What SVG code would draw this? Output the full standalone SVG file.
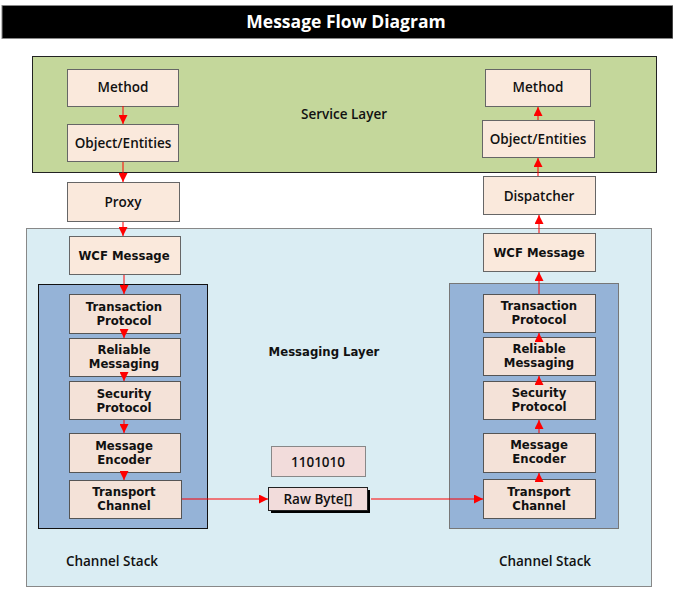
<svg xmlns="http://www.w3.org/2000/svg" width="673" height="600" viewBox="0 0 673 600">
<defs>
<marker id="ah" viewBox="0 0 10 10" refX="10" refY="5" markerWidth="10" markerHeight="9" markerUnits="userSpaceOnUse" orient="auto">
<path d="M0,0 L10,5 L0,10 Z" fill="#ff0000"/>
</marker>
<style>
.title{font-family:"Open Sans","Liberation Sans",sans-serif;font-weight:700;font-size:17.5px;fill:#fff}
.hl{font-family:"Open Sans","Liberation Sans",sans-serif;font-weight:600;font-size:13.5px;fill:#111}
.vl{font-family:"DejaVu Sans","Liberation Sans",sans-serif;font-weight:700;font-size:11.7px;fill:#111}
.up{fill:#fae9dc;stroke:#666;stroke-width:1}
.ch{fill:#f4e2d8;stroke:#555;stroke-width:1}
.pk{fill:#f2dcdb;stroke:#888;stroke-width:1}
.cn{stroke:#ff0000;stroke-width:1;fill:none;marker-end:url(#ah)}
</style>
</defs>
<rect width="673" height="600" fill="#fff"/>
<g id="title">
<rect x="2" y="5.5" width="671" height="33" fill="#000" stroke="#888"/>
<text class="title" x="346" y="28" text-anchor="middle">Message Flow Diagram</text>
</g>
<g id="service-layer">
<rect x="32.5" y="56.5" width="624" height="116" fill="#c4d79b" stroke="#222"/>
<text class="hl" x="344" y="119" text-anchor="middle">Service Layer</text>
</g>
<g id="messaging-layer">
<rect x="26.5" y="228.5" width="625" height="358" fill="#daedf3" stroke="#888"/>
<text class="vl" x="324" y="356" text-anchor="middle">Messaging Layer</text>
</g>
<g id="channel-stack-left">
<rect x="38.5" y="284.5" width="169" height="244" fill="#95b3d7" stroke="#111"/>
<text class="hl" x="112" y="566" text-anchor="middle">Channel Stack</text>
</g>
<g id="channel-stack-right">
<rect x="449.5" y="283.5" width="169" height="245" fill="#95b3d7" stroke="#777"/>
<text class="hl" x="545" y="566" text-anchor="middle">Channel Stack</text>
</g>
<g id="method-left"><rect class="up" x="67.5" y="69.5" width="111" height="37"/><text class="hl" x="123" y="92" text-anchor="middle">Method</text></g>
<g id="objects-left"><rect class="up" x="67.5" y="124.5" width="111" height="37"/><text class="hl" x="123" y="147.5" text-anchor="middle">Object/Entities</text></g>
<g id="proxy"><rect class="up" x="67.5" y="182.5" width="112" height="39"/><text class="hl" x="123" y="206.5" text-anchor="middle">Proxy</text></g>
<g id="wcf-left"><rect class="up" x="69.5" y="236.5" width="111" height="38"/><text class="vl" x="124" y="259.5" text-anchor="middle">WCF Message</text></g>
<g id="method-right"><rect class="up" x="485.5" y="69.5" width="105" height="37"/><text class="hl" x="538" y="92" text-anchor="middle">Method</text></g>
<g id="objects-right"><rect class="up" x="482.5" y="120.5" width="112" height="37"/><text class="hl" x="538" y="143.5" text-anchor="middle">Object/Entities</text></g>
<g id="dispatcher"><rect class="up" x="483.5" y="176.5" width="112" height="38"/><text class="hl" x="539" y="200.5" text-anchor="middle">Dispatcher</text></g>
<g id="wcf-right"><rect class="up" x="483.5" y="233.5" width="112" height="38"/><text class="vl" x="539" y="256.5" text-anchor="middle">WCF Message</text></g>
<g id="tx-left"><rect class="ch" x="69.5" y="294.5" width="111" height="39"/><text class="vl" x="124" y="311" text-anchor="middle">Transaction</text><text class="vl" x="124" y="325" text-anchor="middle">Protocol</text></g>
<g id="rm-left"><rect class="ch" x="69.5" y="338.5" width="111" height="38"/><text class="vl" x="124" y="354" text-anchor="middle">Reliable</text><text class="vl" x="124" y="368" text-anchor="middle">Messaging</text></g>
<g id="sec-left"><rect class="ch" x="69.5" y="381.5" width="111" height="38"/><text class="vl" x="124" y="398" text-anchor="middle">Security</text><text class="vl" x="124" y="412" text-anchor="middle">Protocol</text></g>
<g id="enc-left"><rect class="ch" x="69.5" y="433.5" width="111" height="39"/><text class="vl" x="124" y="450" text-anchor="middle">Message</text><text class="vl" x="124" y="464" text-anchor="middle">Encoder</text></g>
<g id="tc-left"><rect class="ch" x="69.5" y="480.5" width="112" height="38"/><text class="vl" x="124" y="496" text-anchor="middle">Transport</text><text class="vl" x="124" y="510" text-anchor="middle">Channel</text></g>
<g id="tx-right"><rect class="ch" x="483.5" y="294.5" width="112" height="38"/><text class="vl" x="539" y="310" text-anchor="middle">Transaction</text><text class="vl" x="539" y="324" text-anchor="middle">Protocol</text></g>
<g id="rm-right"><rect class="ch" x="483.5" y="337.5" width="112" height="38"/><text class="vl" x="539" y="353" text-anchor="middle">Reliable</text><text class="vl" x="539" y="367" text-anchor="middle">Messaging</text></g>
<g id="sec-right"><rect class="ch" x="483.5" y="381.5" width="112" height="38"/><text class="vl" x="539" y="397" text-anchor="middle">Security</text><text class="vl" x="539" y="411" text-anchor="middle">Protocol</text></g>
<g id="enc-right"><rect class="ch" x="483.5" y="433.5" width="112" height="39"/><text class="vl" x="539" y="449" text-anchor="middle">Message</text><text class="vl" x="539" y="463" text-anchor="middle">Encoder</text></g>
<g id="tc-right"><rect class="ch" x="483.5" y="479.5" width="112" height="39"/><text class="vl" x="539" y="496" text-anchor="middle">Transport</text><text class="vl" x="539" y="510" text-anchor="middle">Channel</text></g>
<g id="bits"><rect class="pk" x="271.5" y="446.5" width="94" height="30"/><text class="hl" x="318" y="466.5" text-anchor="middle">1101010</text></g>
<g id="raw-byte"><rect x="271" y="490" width="99" height="23" fill="#000"/><rect x="268.5" y="487.5" width="99" height="23" fill="#f2dcdb" stroke="#222"/><text class="hl" x="318" y="504" text-anchor="middle">Raw Byte[]</text></g>
<g id="connectors">
<line class="cn" x1="123" y1="106" x2="123" y2="124"/>
<line class="cn" x1="123" y1="162" x2="123" y2="182"/>
<line class="cn" x1="123" y1="222" x2="123" y2="236"/>
<line class="cn" x1="124" y1="275" x2="124" y2="294"/>
<line class="cn" x1="124" y1="334" x2="124" y2="338"/>
<line class="cn" x1="124" y1="377" x2="124" y2="381"/>
<line class="cn" x1="124" y1="420" x2="124" y2="433"/>
<line class="cn" x1="124" y1="473" x2="124" y2="480"/>
<line class="cn" x1="182" y1="499" x2="268" y2="499"/>
<line class="cn" x1="371" y1="499" x2="483" y2="499"/>
<line class="cn" x1="539" y1="479" x2="539" y2="473"/>
<line class="cn" x1="539" y1="433" x2="539" y2="420"/>
<line class="cn" x1="539" y1="381" x2="539" y2="376"/>
<line class="cn" x1="539" y1="337" x2="539" y2="333"/>
<line class="cn" x1="539" y1="294" x2="539" y2="272"/>
<line class="cn" x1="539" y1="233" x2="539" y2="215"/>
<line class="cn" x1="538" y1="176" x2="538" y2="158"/>
<line class="cn" x1="538" y1="120" x2="538" y2="107"/>
</g>
</svg>
